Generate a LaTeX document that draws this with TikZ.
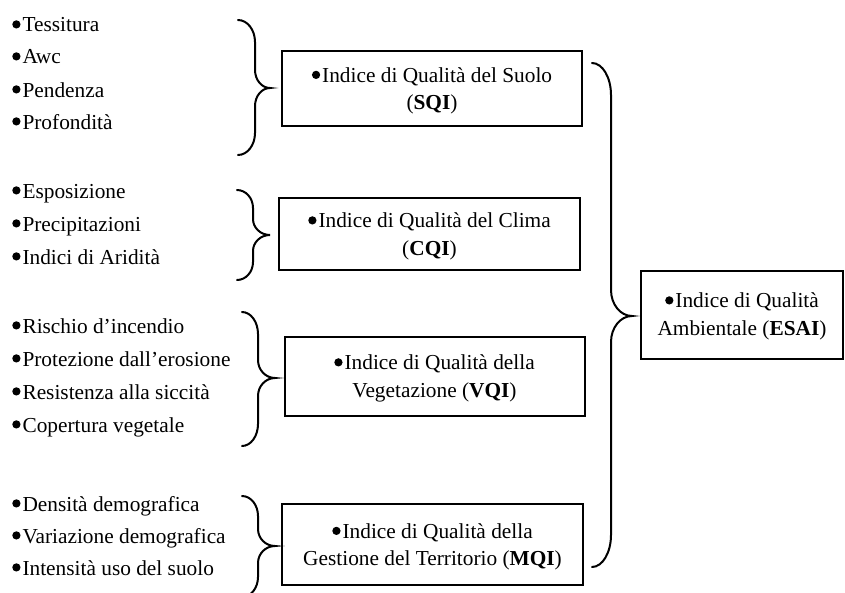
\documentclass[tikz,border=0pt]{standalone}
\usepackage{fontspec}
\setmainfont{Liberation Serif}
\newcommand{\dfont}{\fontsize{16}{20.5}\selectfont}
\newcommand{\blt}{\tikz[x=1pt,y=1pt,baseline=0pt]{\fill (3.1pt,5.7pt) circle (3.1pt);}\hspace{1.5pt}}
% right-facing brace: #1 x0, #2 spine x, #3 tip x, #4 top y, #5 tip y, #6 bottom y, #7 end radius (y), #8 tip radius (y)
\newcommand{\rbrc}[8]{%
  \draw[bracestyle] (#1,#4) .. controls ({#1+0.552*(#2-#1)},#4) and (#2,{#4+0.448*#7}) .. (#2,{#4+#7})
    -- (#2,{#5-#8}) .. controls (#2,{#5-0.448*#8}) and ({#2+0.448*(#3-#2)},#5) .. (#3,#5)
    .. controls ({#2+0.448*(#3-#2)},#5) and (#2,{#5+0.448*#8}) .. (#2,{#5+#8})
    -- (#2,{#6-#7}) .. controls (#2,{#6-0.448*#7}) and ({#1+0.552*(#2-#1)},#6) .. (#1,#6);}
\tikzset{
  listitem/.style={anchor=base west, inner sep=0pt, font=\dfont},
  idxbox/.style={draw, line width=1.5pt, inner sep=0pt},
  idxtext/.style={align=center, inner sep=0pt, font=\dfont},
  bracestyle/.style={line width=1.5pt, line cap=round},
}
\begin{document}
\begin{tikzpicture}[x=0.75pt, y=-0.75pt]
\useasboundingbox (0,0) rectangle (845,592);
\clip (0,0) rectangle (845,592);
% list 1
\node[listitem] (a1) at (12,32) {\blt Tessitura};
\node[listitem] (a2) at (12,64) {\blt Awc};
\node[listitem] (a3) at (12,97) {\blt Pendenza};
\node[listitem] (a4) at (12,129) {\blt Profondità};
% list 2
\node[listitem] (b1) at (12,198) {\blt Esposizione};
\node[listitem] (b2) at (12,231) {\blt Precipitazioni};
\node[listitem] (b3) at (12,264) {\blt Indici di Aridità};
% list 3
\node[listitem] (c1) at (12,333) {\blt Rischio d’incendio};
\node[listitem] (c2) at (12,366) {\blt Protezione dall’erosione};
\node[listitem] (c3) at (12,399) {\blt Resistenza alla siccità};
\node[listitem] (c4) at (12,432) {\blt Copertura vegetale};
% list 4
\node[listitem] (d1) at (12,511) {\blt Densità demografica};
\node[listitem] (d2) at (12,543) {\blt Variazione demografica};
\node[listitem] (d3) at (12,575) {\blt Intensità uso del suolo};
% boxes
\node[idxbox, minimum width=225pt, minimum height=56.25pt] (sqi) at (432,88.5) {};
\node[idxtext] (sqit) at (432,91) {\blt Indice di Qualità del Suolo\\(\textbf{SQI})};
\node[idxbox, minimum width=225.75pt, minimum height=54pt] (cqi) at (429.5,234) {};
\node[idxtext] (cqit) at (429.5,236.5) {\blt Indice di Qualità del Clima\\(\textbf{CQI})};
\node[idxbox, minimum width=225pt, minimum height=59.25pt] (vqi) at (434.5,376.5) {};
\node[idxtext] (vqit) at (434.5,378.5) {\blt Indice di Qualità della\\Vegetazione (\textbf{VQI})};
\node[idxbox, minimum width=225.75pt, minimum height=60.75pt] (mqi) at (432.5,544.5) {};
\node[idxtext] (mqit) at (432.5,547) {\blt Indice di Qualità della\\Gestione del Territorio (\textbf{MQI})};
\node[idxbox, line width=1.2pt, minimum width=151.5pt, minimum height=66pt] (esai) at (742,315) {};
\node[idxtext] (esait) at (742,316.5) {\blt Indice di Qualità\\Ambientale (\textbf{ESAI})};
% braces
\rbrc{238}{255}{270}{20}{88}{155}{22}{18}
\rbrc{237}{253}{270}{190}{235}{280}{18}{16}
\rbrc{242}{258}{275}{312}{378}{446}{22}{18}
\rbrc{242}{258}{275}{496}{546}{597}{20}{17}
\rbrc{592}{611}{632}{63}{316}{567}{32}{26}
\end{tikzpicture}
\end{document}
